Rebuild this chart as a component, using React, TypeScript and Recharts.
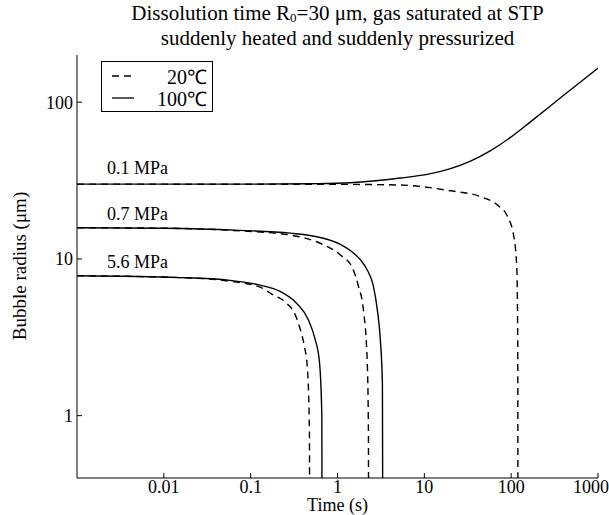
import React from 'react';
import { LineChart, Line, XAxis, YAxis, Legend } from 'recharts';

const FONT = '"Liberation Serif", "Times New Roman", serif';

const xTicks = [0.01, 0.1, 1, 10, 100, 1000];
const yTicks = [1, 10, 100];

// 0.1 MPa
const t01Cold = [0.001, 1, 5.3, 20, 45, 70, 91, 107, 116, 119, 120];
const r01Cold = [30, 29.9, 29.6, 27.2, 24.9, 22, 18.6, 14, 8.9, 3, 0.01];
const t01Hot = [0.001, 0.1, 0.5, 1.4, 5.3, 11.8, 20, 34, 58, 99, 168, 373, 1000];
const r01Hot = [30, 30, 30.2, 30.6, 32.8, 35, 37.7, 42.1, 49.1, 59.8, 75.2, 107, 165];

// 0.7 MPa
const t07Cold = [0.001, 0.01, 0.075, 0.285, 0.69, 1.08, 1.48, 1.74, 1.99, 2.2, 2.27, 2.29];
const r07Cold = [15.8, 15.7, 15.1, 14.2, 12.3, 10.6, 8.8, 6.7, 4.7, 2.2, 0.8, 0.01];
const t07Hot = [0.001, 0.01, 0.075, 0.285, 0.632, 1.077, 1.41, 1.84, 2.2, 2.59, 2.88, 3.12, 3.29, 3.37];
const r07Hot = [15.8, 15.7, 15.2, 14.6, 13.7, 12.4, 11.3, 9.85, 8.5, 6.7, 4.7, 3.0, 1.6, 0.01];

// 5.6 MPa
const t56Cold = [0.001, 0.0153, 0.058, 0.128, 0.181, 0.261, 0.326, 0.37, 0.414, 0.45, 0.475, 0.48];
const r56Cold = [7.8, 7.6, 7.2, 6.6, 5.9, 5.2, 4.4, 3.6, 2.8, 2.0, 0.8, 0.01];
const t56Hot = [0.001, 0.0153, 0.058, 0.128, 0.218, 0.34, 0.46, 0.55, 0.62, 0.66, 0.67];
const r56Hot = [7.8, 7.6, 7.3, 6.8, 6.2, 5.2, 4.1, 3.1, 2.2, 1.0, 0.01];

const pressureLabels = [
  { text: '0.1 MPa', top: 168 },
  { text: '0.7 MPa', top: 214 },
  { text: '5.6 MPa', top: 262 },
];

const legendOrder = ['20℃', '100℃'];

const toPoints = (t: number[], r: number[]) => t.map((time, i) => ({ time, radius: r[i] }));

const series = [
  { id: 'p01-20', name: '20℃', data: toPoints(t01Cold, r01Cold), dashed: true, legend: true },
  { id: 'p01-100', name: '100℃', data: toPoints(t01Hot, r01Hot), dashed: false, legend: true },
  { id: 'p07-20', name: '20℃ 0.7', data: toPoints(t07Cold, r07Cold), dashed: true, legend: false },
  { id: 'p07-100', name: '100℃ 0.7', data: toPoints(t07Hot, r07Hot), dashed: false, legend: false },
  { id: 'p56-20', name: '20℃ 5.6', data: toPoints(t56Cold, r56Cold), dashed: true, legend: false },
  { id: 'p56-100', name: '100℃ 5.6', data: toPoints(t56Hot, r56Hot), dashed: false, legend: false },
];

const DASH = '7 5';

const LegendBox = (props: any) => {
  const items = (props.payload || [])
    .filter((e: any) => e.type !== 'none' && legendOrder.includes(e.value))
    .sort((a: any, b: any) => legendOrder.indexOf(a.value) - legendOrder.indexOf(b.value));
  return (
    <div
      style={{
        border: '1px solid #000',
        background: '#fff',
        width: 112,
        height: 51,
        boxSizing: 'border-box',
        position: 'relative',
        fontFamily: FONT,
      }}
    >
      {items.map((e: any, i: number) => (
        <div
          key={e.value}
          style={{
            position: 'absolute',
            left: 0,
            top: 4 + i * 22,
            width: '100%',
            height: 20,
            display: 'flex',
            alignItems: 'center',
          }}
        >
          <svg width={24} height={20} style={{ marginLeft: 10 }}>
            <line
              x1={0}
              x2={22}
              y1={10}
              y2={10}
              stroke="#000"
              strokeWidth={1.3}
              strokeDasharray={e.payload && e.payload.strokeDasharray}
            />
          </svg>
          <span style={{ marginLeft: 'auto', marginRight: 5, fontSize: 20, color: '#000' }}>{e.value}</span>
        </div>
      ))}
    </div>
  );
};

const axisTick = { fill: '#000', fontSize: 18, fontFamily: FONT };

export default function App() {
  return (
    <div
      style={{
        position: 'absolute',
        left: 0,
        top: 0,
        width: 609,
        height: 515,
        background: '#fff',
        fontFamily: FONT,
        color: '#000',
      }}
    >
      <div
        style={{
          position: 'absolute',
          left: 77,
          width: 521,
          top: 1,
          textAlign: 'center',
          fontSize: 21,
          lineHeight: '25px',
        }}
      >
        Dissolution time R<sub style={{ fontSize: 13, verticalAlign: '-2px', lineHeight: 0 }}>0</sub>=30 μm, gas
        saturated at STP
        <br />
        suddenly heated and suddenly pressurized
      </div>

      <LineChart width={609} height={515} margin={{ top: 55, right: 11, bottom: 0, left: 0 }}>
        <XAxis
          xAxisId="b"
          dataKey="time"
          type="number"
          scale="log"
          domain={[0.001, 1000]}
          allowDataOverflow
          ticks={xTicks}
          tickFormatter={(v: number) => String(v)}
          height={37}
          tickSize={-5}
          tickMargin={7}
          stroke="#000"
          tick={axisTick}
        />
        <XAxis
          xAxisId="t"
          orientation="top"
          type="number"
          scale="log"
          domain={[0.001, 1000]}
          allowDataOverflow
          ticks={xTicks}
          height={0}
          tickSize={-5}
          stroke="#000"
          tick={false}
        />
        <YAxis
          yAxisId="l"
          dataKey="radius"
          type="number"
          scale="log"
          domain={[0.4, 200]}
          allowDataOverflow
          ticks={yTicks}
          tickFormatter={(v: number) => String(v)}
          width={77}
          tickSize={-5}
          tickMargin={9}
          stroke="#000"
          tick={axisTick}
        />
        <YAxis
          yAxisId="r"
          orientation="right"
          type="number"
          scale="log"
          domain={[0.4, 200]}
          allowDataOverflow
          ticks={yTicks}
          width={0}
          tickSize={-5}
          stroke="#000"
          tick={false}
        />
        <Legend
          layout="vertical"
          align="center"
          verticalAlign="middle"
          wrapperStyle={{ left: 101, top: 61, width: 112, height: 51 }}
          content={LegendBox}
        />
        {series.map((s) => (
          <Line
            key={s.id}
            xAxisId="b"
            yAxisId="l"
            data={s.data}
            dataKey="radius"
            name={s.name}
            type="monotone"
            stroke="#000"
            strokeWidth={1.4}
            strokeDasharray={s.dashed ? DASH : undefined}
            dot={false}
            activeDot={false}
            legendType={s.legend ? 'line' : 'none'}
            isAnimationActive={false}
          />
        ))}
      </LineChart>

      {pressureLabels.map((p) => (
        <div
          key={p.text}
          style={{ position: 'absolute', left: 107, top: p.top - 10, fontSize: 18, lineHeight: '20px' }}
        >
          {p.text}
        </div>
      ))}

      <div
        style={{
          position: 'absolute',
          left: 77,
          width: 521,
          top: 496,
          textAlign: 'center',
          fontSize: 18,
          lineHeight: '19px',
        }}
      >
        Time (s)
      </div>
      <div
        style={{
          position: 'absolute',
          left: 20,
          top: 266,
          transform: 'translate(-50%, -50%) rotate(-90deg)',
          whiteSpace: 'nowrap',
          fontSize: 19,
          lineHeight: '20px',
        }}
      >
        Bubble radius (μm)
      </div>
    </div>
  );
}
